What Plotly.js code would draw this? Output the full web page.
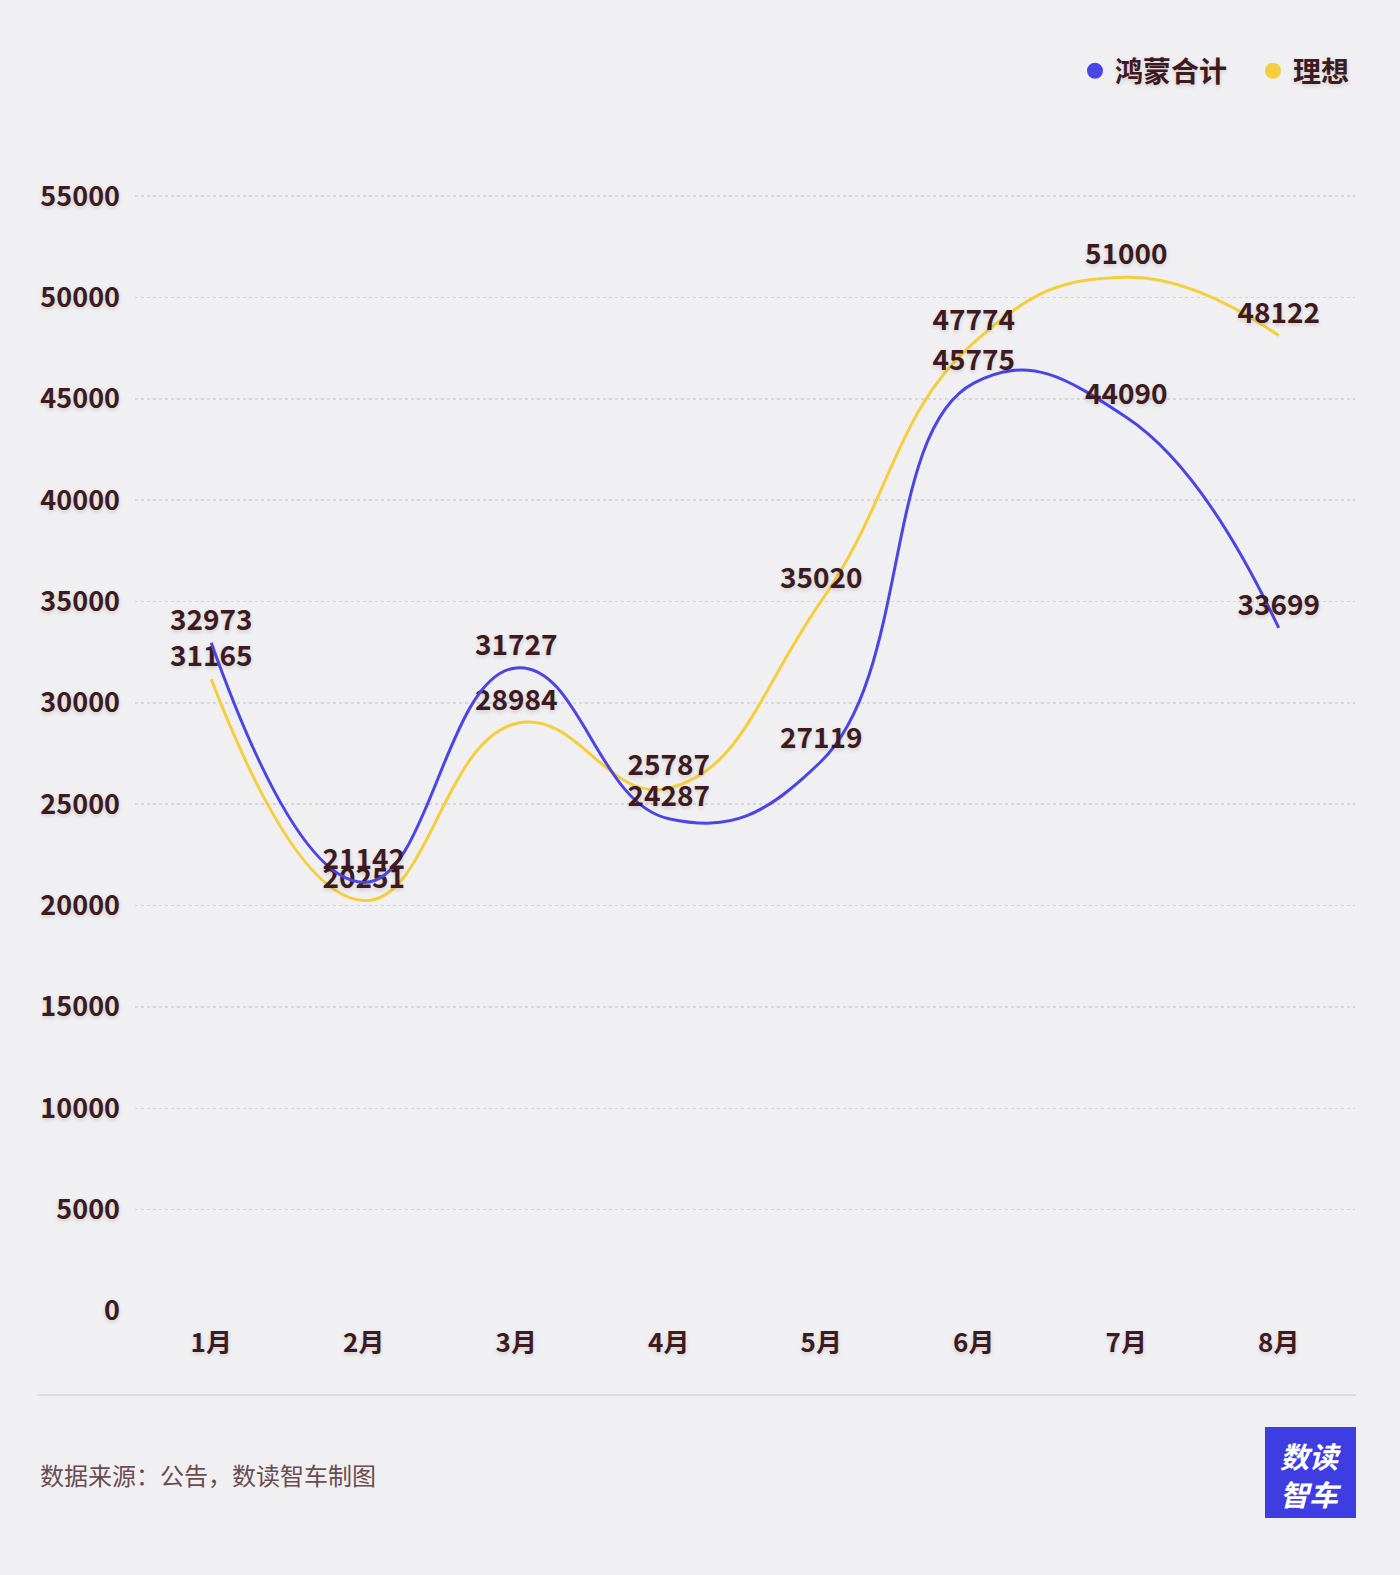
<!DOCTYPE html>
<html>
<head>
<meta charset="utf-8">
<script src="https://cdn.plot.ly/plotly-3.0.1.min.js"></script>
<style>
html,body{margin:0;padding:0;background:#f0f0f2;}
#chart{width:1400px;height:1575px;}
</style>
</head>
<body>
<div id="chart"></div>
<script>
const months = ['1月','2月','3月','4月','5月','6月','7月','8月'];
const hongmeng = [32973, 21142, 31727, 24287, 27119, 45775, 44090, 33699];
const lixiang = [31165, 20251, 28984, 25787, 35020, 47774, 51000, 48122];
const seriesNames = ['鸿蒙合计', '理想'];
const yTicks = [0,5000,10000,15000,20000,25000,30000,35000,40000,45000,50000,55000];

const BLUE = '#4b45e6';
const YELLOW = '#f6cd3c';
const DARK = '#3e1a20';
const FONT = '"Noto Sans CJK SC", "Noto Sans", sans-serif';
const SHADOW = '0px 2px 4px rgba(0,0,0,0.15)';

function lineTrace(name, vals, color){
  return {
    x: months, y: vals, name: name, type: 'scatter', mode: 'lines+markers+text',
    line: {shape: 'spline', smoothing: 1.3, color: color, width: 3},
    marker: {size: 8, color: 'rgba(0,0,0,0)'},
    text: vals.map(String), textposition: 'top center',
    textfont: {family: FONT, size: 28, color: DARK, weight: 700, shadow: SHADOW},
    showlegend: false, hoverinfo: 'x+y'
  };
}
function legendTrace(name, color, pad){
  return {
    x: [null], y: [null], name: name + pad, type: 'scatter', mode: 'markers',
    marker: {size: 20, color: color, symbol: 'circle'}, showlegend: true
  };
}

const data = [
  lineTrace(seriesNames[1], lixiang, YELLOW),
  lineTrace(seriesNames[0], hongmeng, BLUE),
  legendTrace(seriesNames[0], BLUE, '\u2002\u2005'),
  legendTrace(seriesNames[1], YELLOW, '')
];

const layout = {
  width: 1400, height: 1575,
  paper_bgcolor: '#f0f0f2', plot_bgcolor: '#f0f0f2',
  margin: {l: 135, r: 45, t: 186, b: 264},
  font: {family: FONT, color: DARK},
  xaxis: {
    type: 'category', range: [-0.5, 7.5], showgrid: false, zeroline: false, showline: false,
    ticks: '', ticklabelstandoff: 14,
    tickfont: {family: FONT, size: 26, color: DARK, weight: 700, shadow: SHADOW}
  },
  yaxis: {
    range: [0, 55500], tickvals: yTicks, ticktext: yTicks.map(String),
    showgrid: true, gridcolor: '#d6d6da', gridwidth: 1.5, griddash: 'dot',
    zeroline: false, showline: false, ticks: '', ticklabelstandoff: 14,
    tickfont: {family: FONT, size: 27, color: DARK, weight: 700, shadow: SHADOW}
  },
  legend: {
    orientation: 'h', x: 1.0, xanchor: 'right', y: 1.1022, yanchor: 'middle',
    bgcolor: 'rgba(0,0,0,0)', traceorder: 'normal', itemsizing: 'trace',
    font: {family: FONT, size: 28, color: DARK, weight: 700, shadow: SHADOW},
    itemwidth: 30
  },
  shapes: [
    {type: 'line', xref: 'paper', yref: 'paper', x0: -0.0795, x1: 1.0008, y0: -0.0747, y1: -0.0747,
     line: {color: '#dcdce0', width: 2}},
    {type: 'rect', xref: 'paper', yref: 'paper', x0: (1265-135)/1220, x1: (1356-135)/1220,
     y0: (1311-1518)/1125, y1: (1311-1427)/1125, fillcolor: '#3d3de2', line: {width: 0}}
  ],
  annotations: [
    {xref: 'paper', yref: 'paper', x: -0.0795, y: (1311-1474)/1125, xanchor: 'left', yanchor: 'middle',
     text: '数据来源：公告，数读智车制图', showarrow: false,
     font: {family: FONT, size: 24, color: '#6a4b4f'}},
    {xref: 'paper', yref: 'paper', x: (1311-135)/1220, y: (1311-1474)/1125, xanchor: 'center', yanchor: 'middle',
     text: '<b><i>数读<br>智车</i></b>', showarrow: false,
     font: {family: FONT, size: 29, color: '#ffffff'}}
  ]
};

Plotly.newPlot('chart', data, layout, {displayModeBar: false, staticPlot: true});
</script>
</body>
</html>
